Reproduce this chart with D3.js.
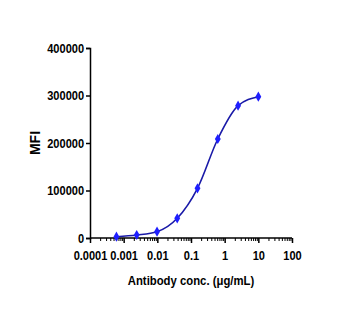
<!DOCTYPE html>
<html><head><meta charset="utf-8">
<script src="https://cdn.jsdelivr.net/npm/d3@7"></script>
<style>body{margin:0;background:#fff}</style>
</head><body>
<svg id="c" width="350" height="324"></svg>
<script>
const conc = [0.00061, 0.00244, 0.0098, 0.039, 0.156, 0.625, 2.5, 10];
const mfi = [2700, 6300, 13300, 41500, 104600, 208400, 278500, 297500];
const yTicks = [0, 100000, 200000, 300000, 400000];
const xTicks = [0.0001, 0.001, 0.01, 0.1, 1, 10, 100];
const xTickLabels = ["0.0001", "0.001", "0.01", "0.1", "1", "10", "100"];

const svg = d3.select("#c");
const font = "'Liberation Sans', Arial, sans-serif";
const x = d3.scaleLog().domain([0.0001, 100]).range([90, 292]);
const y = d3.scaleLinear().domain([0, 400000]).range([238, 48]);

// y axis
const ya = svg.append("g").attr("transform", "translate(90,0)")
  .call(d3.axisLeft(y).tickValues(yTicks).tickSize(4).tickPadding(2).tickFormat(d3.format("d")));
ya.select(".domain").attr("stroke", "#000").attr("stroke-width", 1.5);
ya.selectAll(".tick line").attr("stroke-width", 1.5);
ya.selectAll("text").attr("font-family", font).attr("font-weight", "bold").attr("font-size", 13)
  .attr("fill", "#000").attr("x", -7).attr("transform", "scale(0.85,1)");

// x axis with minor ticks
const minor = [];
for (let e = -4; e < 2; e++) for (let k = 2; k <= 9; k++) minor.push(k * Math.pow(10, e));
const xm = svg.append("g").attr("transform", "translate(0,238)")
  .call(d3.axisBottom(x).tickValues(minor).tickSize(3).tickFormat(""));
xm.select(".domain").remove();
xm.selectAll(".tick line").attr("stroke-width", 1);
const xa = svg.append("g").attr("transform", "translate(0,238)")
  .call(d3.axisBottom(x).tickValues(xTicks).tickSize(5).tickPadding(8).tickFormat((d, i) => xTickLabels[i]));
xa.select(".domain").attr("d", "M90,0H292").attr("stroke-width", 1.5);
xa.selectAll(".tick line").attr("stroke-width", 1.5);
xa.selectAll("text").attr("font-family", font).attr("font-weight", "bold").attr("font-size", 13)
  .attr("fill", "#000").attr("transform", "scale(0.85,1)");

// curve
const data = conc.map((c, i) => ({c, v: mfi[i]}));
svg.append("path").datum(data)
  .attr("fill", "none").attr("stroke", "#1a1aa8").attr("stroke-width", 1.6)
  .attr("d", d3.line().x(d => x(d.c)).y(d => y(d.v)).curve(d3.curveMonotoneX));

// points
svg.selectAll(".pt").data(data).enter().append("path")
  .attr("transform", d => `translate(${x(d.c)},${y(d.v)})`)
  .attr("d", d3.symbol(d3.symbolDiamond, 30))
  .attr("fill", "#1e1eff");

// labels
svg.append("text").attr("transform", "translate(40,143) rotate(-90)")
  .attr("text-anchor", "middle").attr("font-family", font).attr("font-weight", "bold")
  .attr("font-size", 14).text("MFI");
svg.append("text").attr("transform", "translate(191,285) scale(0.84,1)")
  .attr("text-anchor", "middle").attr("font-family", font).attr("font-weight", "bold")
  .attr("font-size", 13.5).text("Antibody conc. (μg/mL)");
</script>
</body></html>
